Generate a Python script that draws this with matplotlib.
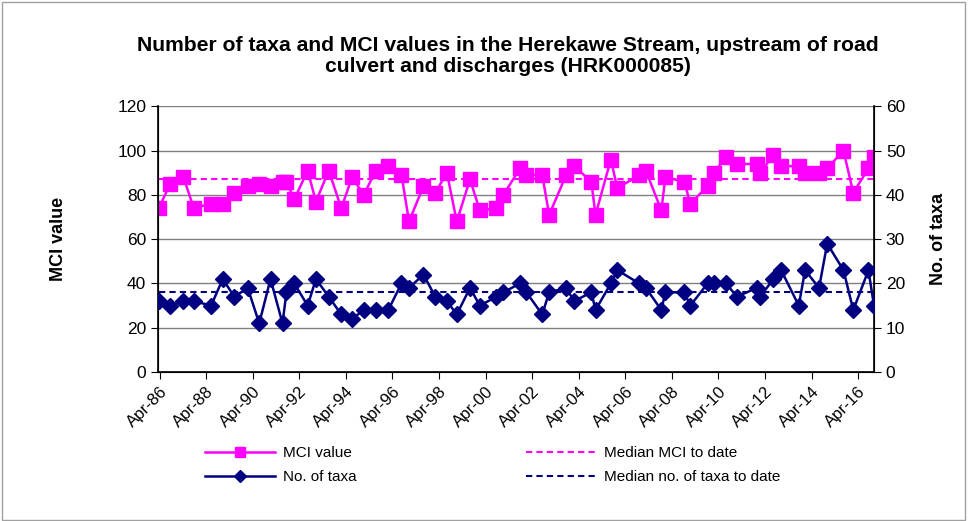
import numpy as np
import pandas as pd
import matplotlib
matplotlib.use("Agg")
import matplotlib.pyplot as plt
import matplotlib.dates as mdates
from matplotlib.patches import Rectangle

plt.rcParams['font.family'] = ['Liberation Sans', 'DejaVu Sans']

# Sampling dates
sample_dates = [
    "1986-03-17", "1986-09-16", "1987-04-10", "1987-09-20", "1988-06-17",
    "1988-12-17", "1989-06-17", "1990-01-12", "1990-07-12", "1991-01-05",
    "1991-07-12", "1991-09-12", "1992-01-12", "1992-08-10", "1992-12-17",
    "1993-07-07", "1994-01-19", "1994-07-07", "1995-01-08", "1995-07-12",
    "1996-01-26", "1996-08-20", "1996-12-17", "1997-07-31", "1998-02-02",
    "1998-08-03", "1999-01-04", "1999-07-31", "2000-01-01", "2000-09-16",
    "2001-01-04", "2001-09-23", "2002-01-01", "2002-09-06", "2002-12-24",
    "2003-09-16", "2004-01-19", "2004-10-15", "2004-12-20", "2005-08-17",
    "2005-11-28", "2006-11-06", "2007-02-17", "2007-10-19", "2007-12-20",
    "2008-10-12", "2009-01-15", "2009-10-12", "2010-01-15", "2010-07-31",
    "2011-01-15", "2011-11-24", "2012-01-15", "2012-08-10", "2012-12-10",
    "2013-09-12", "2013-12-20", "2014-07-27", "2014-12-02", "2015-08-14",
    "2016-01-15", "2016-09-09", "2016-12-05",
]

mci_values = [
    74, 85, 88, 74, 76, 76, 81, 84, 85, 84,
    86, 86, 78, 91, 77, 91, 74, 88, 80, 91,
    93, 89, 68, 84, 81, 90, 68, 87, 73, 74,
    80, 92, 89, 89, 71, 89, 93, 86, 71, 96,
    83, 89, 91, 73, 88, 86, 76, 84, 90, 97,
    94, 94, 90, 98, 93, 93, 90, 90, 92, 100,
    81, 92, 97,
]

taxa_counts = [
    16, 15, 16, 16, 15, 21, 17, 19, 11, 21,
    11, 18, 20, 15, 21, 17, 13, 12, 14, 14,
    14, 20, 19, 22, 17, 16, 13, 19, 15, 17,
    18, 20, 18, 13, 18, 19, 16, 18, 14, 20,
    23, 20, 19, 14, 18, 18, 15, 20, 20, 20,
    17, 19, 17, 21, 23, 15, 23, 19, 29, 23,
    14, 23, 15,
]

median_mci = 87
median_taxa = 18

pink = '#FF00FF'
navy = '#000080'

dates = pd.to_datetime(sample_dates)

fig = plt.figure(figsize=(9.73, 5.21), dpi=100)
ax = fig.add_axes([158 / 973, 1 - 372 / 521, (874 - 158) / 973, (372 - 106.4) / 521])
ax2 = ax.twinx()

l1, = ax.plot(dates, mci_values, color=pink, lw=1.8, marker='s', ms=9.5,
              label='MCI value', zorder=3)
l2, = ax.plot([dates[0], dates[-1]], [median_mci, median_mci], color=pink,
              lw=1.5, ls=(0, (3, 2)), label='Median MCI to date', zorder=2)
l3, = ax2.plot(dates, taxa_counts, color=navy, lw=1.8, marker='D', ms=8,
               label='No. of taxa', zorder=3)
l4, = ax2.plot([dates[0], dates[-1]], [median_taxa, median_taxa], color=navy,
               lw=1.5, ls=(0, (3, 2)), label='Median no. of taxa to date', zorder=2)

ax.set_ylim(0, 120)
ax.set_yticks(np.arange(0, 121, 20))
ax2.set_ylim(0, 60)
ax2.set_yticks(np.arange(0, 61, 10))
ax.set_xlim(dates[0] - pd.Timedelta(days=10), dates[-1])

ax.yaxis.grid(True, color='#808080', lw=1)
ax.set_axisbelow(True)

ax.xaxis.set_major_locator(mdates.YearLocator(2, month=4, day=1))
ax.xaxis.set_major_formatter(mdates.DateFormatter('%b-%y'))

ax.tick_params(axis='both', labelsize=12.5, direction='out', length=5, color='black')
ax2.tick_params(axis='y', labelsize=12.5, direction='out', length=5, color='black')
ax.tick_params(axis='x', labelsize=12)
for lab in ax.get_xticklabels():
    lab.set_rotation(45)
    lab.set_ha('right')
    lab.set_rotation_mode('anchor')

ax.spines['top'].set_visible(False)
ax2.spines['top'].set_visible(False)
for sp in ['left', 'bottom']:
    ax.spines[sp].set_linewidth(1.2)
ax2.spines['right'].set_linewidth(1.2)

ax.set_ylabel('MCI value', fontsize=13, fontweight='bold', labelpad=36)
ax2.set_ylabel('No. of taxa', fontsize=13, fontweight='bold', labelpad=18)

fig.text(0.522, 1 - 56 / 521, 'Number of taxa and MCI values in the Herekawe Stream, upstream of road\nculvert and discharges (HRK000085)',
         ha='center', va='center', fontsize=15.2, fontweight='bold', linespacing=1.1)

fig.legend(handles=[l1, l3, l2, l4], ncol=2, frameon=False, fontsize=11,
           loc='center left', bbox_to_anchor=(205 / 973, 1 - 465 / 521),
           borderaxespad=0, borderpad=0, handlelength=4.6, handletextpad=0.5,
           columnspacing=11.1, labelspacing=0.65, markerscale=0.75)

fig.patches.append(Rectangle((0.002, 0.002), 0.99, 0.994, transform=fig.transFigure,
                             fill=False, edgecolor='#a0a0a0', lw=1))

fig.savefig('out.png', dpi=100)
